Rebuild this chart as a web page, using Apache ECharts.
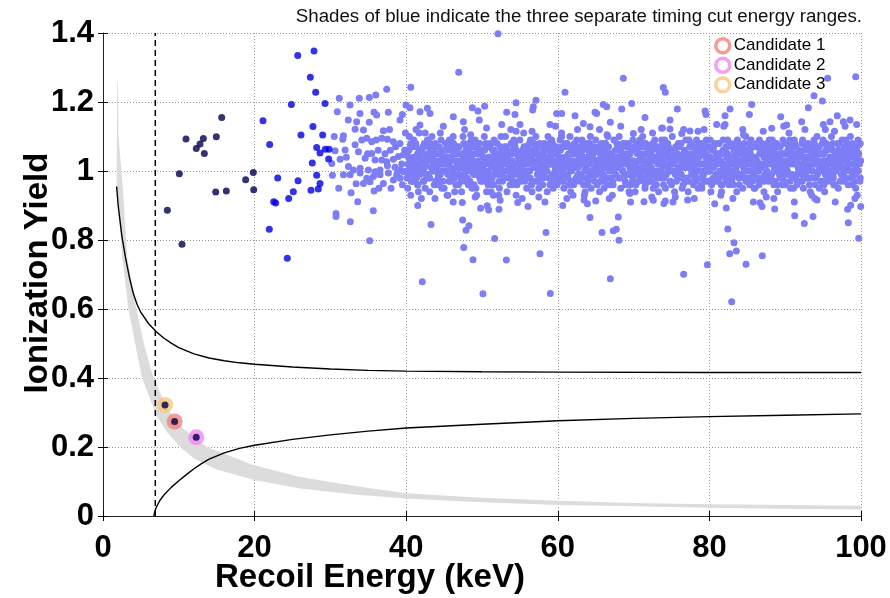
<!DOCTYPE html>
<html>
<head>
<meta charset="utf-8">
<script src="https://cdn.jsdelivr.net/npm/echarts@6/dist/echarts.min.js"></script>
<style>html,body{margin:0;padding:0;background:#fff}#c{width:890px;height:598px}</style>
</head>
<body>
<div id="c"></div>
<script>
// ---- axis ticks ----
const xTicks = [0, 20, 40, 60, 80, 100];
const yTicks = [0, 0.2, 0.4, 0.6, 0.8, 1, 1.2, 1.4];
const titleText = 'Shades of blue indicate the three separate timing cut energy ranges.';
const xName = 'Recoil Energy (keV)';
const yName = 'Ionization Yield';
const candidateNames = ['Candidate 1', 'Candidate 2', 'Candidate 3'];

// ---- candidates [keV, yield] ----
const candidate1 = [[9.45, 0.274]];
const candidate2 = [[12.3, 0.228]];
const candidate3 = [[8.18, 0.322]];

// ---- cut line (recoil energy threshold) ----
const thresholdX = 6.9;

// ---- gray band (edges) ----
const bandTopX = [1.95, 2.05, 2.6, 3.2, 4.4, 5.5, 6.6, 8.5, 10.5, 13.7, 19.8, 26, 33.9, 40, 50, 60, 70, 80, 90, 100];
const bandTopY = [1.26, 1.1, 0.955, 0.75, 0.6, 0.49, 0.404, 0.31, 0.255, 0.2, 0.148, 0.113, 0.085, 0.066, 0.053, 0.044, 0.038, 0.034, 0.032, 0.030];
const bandBotX = [1.88, 1.8, 2.55, 3.35, 5.1, 7, 8.5, 10.2, 12, 15, 19.8, 26, 33.9, 40, 50, 60, 70, 80, 90, 100];
const bandBotY = [1.26, 0.955, 0.75, 0.6, 0.404, 0.293, 0.241, 0.2, 0.167, 0.135, 0.105, 0.08, 0.061, 0.051, 0.04, 0.032, 0.028, 0.024, 0.021, 0.019];

// ---- black curves ----
const upperCurveX = [1.8, 2, 2.5, 3, 3.5, 4, 4.5, 5, 6, 7, 8, 9, 10, 12, 14, 16, 18, 20, 25, 30, 35, 40, 50, 60, 80, 100];
const upperCurveY = [0.955, 0.9, 0.81, 0.745, 0.69, 0.645, 0.613, 0.59, 0.558, 0.535, 0.516, 0.501, 0.488, 0.47, 0.458, 0.45, 0.444, 0.44, 0.432, 0.426, 0.422, 0.42, 0.418, 0.417, 0.416, 0.416];
const lowerCurveX = [6.7, 6.85, 7, 7.5, 8, 9, 10, 11, 12, 13, 14, 16, 18, 20, 25, 30, 35, 40, 50, 60, 70, 80, 90, 100];
const lowerCurveY = [0, 0.013, 0.024, 0.045, 0.06, 0.083, 0.102, 0.12, 0.137, 0.152, 0.165, 0.183, 0.196, 0.205, 0.222, 0.235, 0.246, 0.255, 0.266, 0.276, 0.283, 0.288, 0.292, 0.296];

// ---- events: lowest energy range (navy) ----
const navyPts = [[15.66,1.155],[10.95,1.093],[13.24,1.094],[12.8,1.078],[12.31,1.065],[13.37,1.051],[14.95,1.099],[10.07,0.992],[19.83,0.996],[18.82,0.975],[19.88,0.946],[14.87,0.939],[16.27,0.942],[8.49,0.886],[10.42,0.788],[9.45,0.274],[12.3,0.228],[8.18,0.322]];

// ---- events: middle energy range (blue) ----
const bluePts = [[25.69,1.335],[27.84,1.348],[27.35,1.272],[28.06,1.228],[29.29,1.196],[24.85,1.193],[21.11,1.146],[27.7,1.129],[26.12,1.104],[28.98,1.104],[21.99,1.077],[28.19,1.068],[28.63,1.052],[29.33,1.063],[29.82,1.063],[29.77,1.035],[27.61,1.023],[28.19,0.988],[23.05,0.98],[25.73,0.972],[28.63,0.964],[28.4,0.948],[27.44,0.944],[25.11,0.94],[22.52,0.911],[22.78,0.907],[24.5,0.92],[21.94,0.831],[24.31,0.747]];

// ---- events: highest energy range (light blue) ----
const lightLowE = [[31.72,1.102],[31.63,1.092],[33.26,1.121],[34.36,1.119],[36.99,1.117],[30.62,1.059],[31.94,1.061],[33.26,1.076],[34.14,1.09],[34.8,1.095],[35.45,1.085],[36.03,1.09],[36.77,1.095],[37.52,1.092],[38.31,1.085],[39.19,1.08],[33.7,1.056],[34.58,1.037],[35.45,1.051],[35.89,1.032],[36.77,1.032],[37.43,1.027],[38.31,1.034],[38.97,1.042],[39.63,1.047],[30.18,1.022],[31.28,1.034],[32.38,1.013],[33.04,1.003],[33.92,1.008],[35.01,1.003],[35.89,0.998],[36.55,1.003],[37.52,1.015],[38.53,1.011],[39.19,1.003],[30.27,0.988],[31.72,0.989],[32.6,0.989],[33.92,0.994],[34.8,0.979],[35.67,0.984],[36.55,0.989],[37.65,0.994],[38.75,0.989],[39.63,0.998],[33.39,0.963],[34.36,0.964],[35.23,0.969],[36.99,0.964],[38.31,0.974],[39.19,0.979],[32.73,0.937],[35.76,0.942],[37.9,1.06],[38.6,1.07],[39.4,1.02],[39.8,1.06],[38.9,1.0],[37.2,1.05],[36.3,1.06],[39.5,0.96],[38.0,0.95],[36.4,0.95],[34.9,1.05],[32.1,1.04],[30.5,1.10],[31.1,0.95],[37.8,1.12],[39.9,1.11]];

const lightHigh = [[52.11,1.398],[46.93,1.286],[40.6,1.243],[37.43,1.237],[35.98,1.22],[35.13,1.213],[33.81,1.211],[31.17,1.211],[32.59,1.191],[60.95,1.228],[57.12,1.205],[54.49,1.198],[50.35,1.188],[48.72,1.183],[49.47,1.174],[39.97,1.191],[40.5,1.183],[42.79,1.182],[41.82,1.172],[30.91,1.172],[33.9,1.167],[35.75,1.17],[36.1,1.162],[37.64,1.17],[39.49,1.164],[39.18,1.148],[43.14,1.167],[46.22,1.157],[47.54,1.143],[53.26,1.17],[54.35,1.164],[56.69,1.177],[56.77,1.186],[59.85,1.167],[60.51,1.167],[62.27,1.16],[64.91,1.17],[32.36,1.148],[33.47,1.143],[35.13,1.141],[41.82,1.133],[49.64,1.148],[52.6,1.135],[55.01,1.135],[58.97,1.135],[63.37,1.138],[64.25,1.128],
[68.64,1.269],[73.92,1.242],[74.18,1.228],[95.6,1.269],[99.3,1.273],[93.8,1.218],[94.9,1.203],[66.0,1.193],[66.45,1.186],[65.13,1.167],[68.43,1.18],[69.75,1.196],[71.5,1.155],[66.93,1.141],[75.77,1.18],[74.8,1.148],[73.7,1.124],[74.8,1.122],[79.42,1.174],[79.55,1.164],[82.72,1.18],[82.06,1.16],[85.58,1.193],[85.27,1.164],[89.41,1.157],[93.05,1.183],[92.17,1.143],[90.19,1.133],[88.22,1.124],[80.96,1.135],[82.06,1.135],[95.03,1.135],[95.91,1.143],[96.87,1.16],[97.67,1.143],[98.55,1.148],[99.43,1.135],[77.44,1.116],[76.35,1.109],[69.97,1.109]];

const lightLow = [[33.6,0.911],[30.74,0.877],[30.74,0.868],[32.63,0.853],[35.66,0.885],[35.18,0.798],[41.52,0.9],[43.27,0.845],[47.4,0.909],[47.45,0.858],[48.28,0.841],[47.89,0.828],[49.82,0.892],[50.7,0.899],[50.88,0.887],[52.24,0.889],[54.71,0.909],[56.07,0.897],[51.67,0.804],[47.59,0.778],[48.81,0.743],[53.21,0.742],[57.65,0.76],[58.44,0.822],[42.12,0.679],[50.13,0.644],[59.01,0.645],[60.65,0.9],[64.25,0.865],[63.46,0.916],[65.0,0.913],[67.98,0.867],[65.83,0.822],[67.32,0.827],[67.72,0.831],[68.07,0.799],[66.93,0.688],[71.37,0.911],[72.6,0.915],[74.0,0.906],[74.18,0.913],[77.13,0.916],[76.6,0.701],[79.73,0.728],[82.23,0.893],[82.42,0.832],[83.25,0.792],[82.68,0.76],[83.55,0.768],[84.83,0.73],[86.98,0.754],[82.94,0.621],[86.68,0.908],[86.94,0.897],[88.61,0.89],[91.25,0.87],[92.52,0.848],[93.67,0.868],[94.2,0.916],[98.24,0.889],[98.64,0.901],[98.33,0.85],[99.96,0.897],[99.7,0.805]];

const lightFringe = [[41.3,1.12],[43.8,0.92],[44.9,1.13],[46.2,0.91],[47.7,1.12],[49.1,0.925],[50.6,1.125],[52.4,0.915],[53.8,1.12],[55.3,0.92],[56.6,1.115],[58.3,0.91],[59.7,1.13],[61.2,0.92],[62.6,1.12],[63.9,0.905],[65.5,1.12],[66.8,0.92],[68.3,1.13],[69.6,0.91],[71.0,1.12],[72.4,0.925],[73.8,1.125],[75.2,0.91],[76.6,1.12],[78.0,0.92],[79.3,1.12],[80.7,0.905],[81.9,1.13],[83.1,0.92],[84.4,1.12],[85.8,0.91],[87.1,1.115],[88.5,0.92],[89.8,1.13],[91.2,0.91],[92.6,1.12],[93.9,0.92],[95.3,1.12],[96.6,0.91],[97.9,1.13],[99.2,0.92],
[42.5,1.11],[45.5,0.93],[48.5,1.105],[51.5,0.93],[54.5,1.115],[57.5,0.925],[60.5,1.11],[63.5,0.93],[66.5,1.105],[69.5,0.935],[72.5,1.11],[75.5,0.925],[78.5,1.115],[81.5,0.93],[84.5,1.105],[87.5,0.925],[90.5,1.11],[93.5,0.93],[96.5,1.115],[99.5,0.93]];

const lightCore = [
[40.1,1.05],[40.3,0.99],[40.6,1.08],[40.8,1.02],[40.2,0.95],[40.5,1.03],[40.9,0.97],[40.4,1.10],[40.7,1.00],[40.0,1.06],[40.6,0.93],[40.3,1.04],[40.8,1.07],[40.1,0.98],[40.5,1.01],
[41.2,1.02],[41.5,0.96],[41.8,1.06],[41.0,1.09],[41.4,1.00],[41.7,1.04],[41.1,0.97],[41.9,1.01],[41.3,1.07],[41.6,0.94],[41.2,1.04],[41.8,0.99],[41.5,1.05],[41.0,1.01],[41.7,1.11],
[42.0,1.03],[42.4,1.08],[42.7,0.98],[42.2,1.00],[42.9,1.05],[42.5,0.95],[42.1,1.06],[42.6,1.02],[42.3,0.97],[42.8,1.09],[42.4,1.01],[42.0,0.92],[42.7,1.04],[42.2,1.07],[42.9,0.99],
[43.3,1.01],[43.6,1.06],[43.1,0.98],[43.9,1.03],[43.4,1.10],[43.0,1.04],[43.7,0.96],[43.2,1.08],[43.5,1.00],[43.8,1.05],[43.1,0.94],[43.6,1.02],[43.3,1.07],[43.9,0.97],[43.4,1.03],
[44.2,1.05],[44.5,0.99],[44.8,1.02],[44.0,1.07],[44.6,1.09],[44.3,0.96],[44.9,1.04],[44.1,1.01],[44.7,0.95],[44.4,1.03],[44.2,0.98],[44.8,1.06],[44.5,1.11],[44.0,1.00],[44.6,1.03],
[45.1,1.00],[45.4,1.04],[45.8,0.97],[45.2,1.08],[45.6,1.02],[45.9,1.06],[45.0,0.95],[45.3,1.03],[45.7,1.09],[45.5,0.99],[45.1,1.06],[45.8,1.01],[45.4,0.93],[45.9,1.04],[45.2,1.02],
[46.0,1.04],[46.3,0.98],[46.7,1.07],[46.5,1.01],[46.9,0.96],[46.2,1.10],[46.6,1.03],[46.1,1.00],[46.8,1.05],[46.4,0.94],[46.0,1.08],[46.7,0.99],[46.3,1.05],[46.9,1.02],[46.5,1.06],
[47.2,1.03],[47.6,1.08],[47.0,0.99],[47.4,1.05],[47.8,0.97],[47.1,1.01],[47.9,1.06],[47.3,0.94],[47.7,1.02],[47.5,1.10],[47.2,0.98],[47.6,1.04],[47.0,1.07],[47.8,1.00],[47.4,1.02],
[48.1,1.06],[48.4,1.00],[48.8,1.03],[48.2,0.96],[48.6,1.09],[48.9,0.99],[48.0,1.02],[48.5,1.05],[48.3,1.08],[48.7,0.95],[48.1,1.01],[48.6,1.04],[48.4,0.97],[48.9,1.07],[48.2,1.03],
[49.0,1.01],[49.3,1.07],[49.7,0.98],[49.5,1.03],[49.9,1.05],[49.2,0.95],[49.6,1.00],[49.1,1.09],[49.8,1.02],[49.4,0.99],[49.0,1.05],[49.7,1.08],[49.3,0.93],[49.9,1.01],[49.5,1.06],
[50.2,1.04],[50.5,0.98],[50.9,1.07],[50.1,1.01],[50.7,1.03],[50.3,1.10],[50.8,0.96],[50.0,1.06],[50.4,1.02],[50.6,0.94],[50.2,0.99],[50.9,1.04],[50.5,1.08],[50.1,0.97],[50.7,1.00],
[51.1,1.03],[51.4,1.06],[51.8,1.00],[51.0,0.97],[51.6,1.09],[51.3,1.01],[51.9,1.05],[51.2,0.94],[51.7,1.03],[51.5,0.99],[51.1,1.08],[51.8,1.04],[51.4,0.96],[51.0,1.02],[51.6,1.06],
[52.0,1.02],[52.4,1.07],[52.7,0.97],[52.2,1.04],[52.9,1.00],[52.5,1.10],[52.1,0.99],[52.6,1.05],[52.3,0.95],[52.8,1.03],[52.4,1.01],[52.0,1.08],[52.7,1.06],[52.2,0.93],[52.9,1.04],
[53.3,1.05],[53.6,0.98],[53.1,1.02],[53.9,1.08],[53.4,1.00],[53.0,1.04],[53.7,0.96],[53.2,1.07],[53.5,1.03],[53.8,0.99],[53.1,1.10],[53.6,1.01],[53.3,0.94],[53.9,1.05],[53.4,1.02],
[54.2,1.01],[54.5,1.06],[54.8,0.99],[54.0,1.03],[54.6,0.96],[54.3,1.08],[54.9,1.02],[54.1,0.97],[54.7,1.05],[54.4,1.00],[54.2,1.09],[54.8,1.04],[54.5,0.93],[54.0,1.06],[54.6,1.02],
[55.1,1.04],[55.4,0.98],[55.8,1.07],[55.2,1.01],[55.6,1.03],[55.9,0.95],[55.0,1.09],[55.3,1.05],[55.7,1.00],[55.5,1.11],[55.1,0.97],[55.8,1.02],[55.4,1.06],[55.9,1.03],[55.2,0.99],
[56.0,1.02],[56.3,1.06],[56.7,0.97],[56.5,1.04],[56.9,1.08],[56.2,1.00],[56.6,0.94],[56.1,1.05],[56.8,1.01],[56.4,1.09],[56.0,0.98],[56.7,1.03],[56.3,1.00],[56.9,1.05],[56.5,0.96],
[57.2,1.03],[57.6,1.00],[57.0,1.07],[57.4,0.97],[57.8,1.05],[57.1,1.10],[57.9,1.02],[57.3,0.99],[57.7,1.04],[57.5,0.95],[57.2,1.06],[57.6,1.08],[57.0,1.01],[57.8,0.98],[57.4,1.03],
[58.1,1.05],[58.4,1.01],[58.8,0.98],[58.2,1.08],[58.6,1.03],[58.9,1.06],[58.0,0.96],[58.5,1.00],[58.3,1.04],[58.7,1.10],[58.1,0.99],[58.6,0.94],[58.4,1.07],[58.9,1.02],[58.2,1.01],
[59.0,1.02],[59.3,0.97],[59.7,1.06],[59.5,1.03],[59.9,1.00],[59.2,1.09],[59.6,0.99],[59.1,1.05],[59.8,1.07],[59.4,0.95],[59.0,1.04],[59.7,1.01],[59.3,1.08],[59.9,0.96],[59.5,1.05],
[60.2,1.04],[60.5,1.00],[60.9,1.07],[60.1,0.98],[60.7,1.02],[60.3,1.09],[60.8,0.95],[60.0,1.05],[60.4,1.03],[60.6,0.97],[60.2,1.01],[60.9,1.04],[60.5,1.10],[60.1,1.06],[60.7,0.99],
[61.1,1.01],[61.4,1.05],[61.8,0.97],[61.0,1.08],[61.6,1.03],[61.3,0.99],[61.9,1.06],[61.2,1.02],[61.7,0.94],[61.5,1.07],[61.1,1.04],[61.8,1.00],[61.4,0.96],[61.0,1.03],[61.6,1.10],
[62.0,1.03],[62.4,0.98],[62.7,1.06],[62.2,1.01],[62.9,1.04],[62.5,1.09],[62.1,0.96],[62.6,1.02],[62.3,1.07],[62.8,0.99],[62.4,1.05],[62.0,0.93],[62.7,1.01],[62.2,1.08],[62.9,0.97],
[63.3,1.02],[63.6,1.07],[63.1,0.99],[63.9,1.04],[63.4,0.96],[63.0,1.06],[63.7,1.01],[63.2,1.09],[63.5,1.03],[63.8,0.98],[63.1,1.05],[63.6,0.94],[63.3,1.08],[63.9,1.00],[63.4,1.03],
[64.2,1.05],[64.5,1.00],[64.8,1.07],[64.0,0.97],[64.6,1.03],[64.3,1.10],[64.9,0.99],[64.1,1.02],[64.7,1.05],[64.4,0.95],[64.2,1.08],[64.8,1.01],[64.5,1.04],[64.0,1.06],[64.6,0.98],
[65.1,1.03],[65.4,1.07],[65.8,1.00],[65.2,0.96],[65.6,1.05],[65.9,1.02],[65.0,1.09],[65.3,0.99],[65.7,1.04],[65.5,0.94],[65.1,1.06],[65.8,1.08],[65.4,1.01],[65.9,0.97],[65.2,1.03],
[66.0,1.04],[66.3,1.01],[66.7,1.07],[66.5,0.98],[66.9,1.03],[66.2,1.06],[66.6,1.10],[66.1,0.95],[66.8,1.00],[66.4,1.05],[66.0,0.99],[66.7,1.02],[66.3,1.08],[66.9,0.96],[66.5,1.04],
[67.2,1.02],[67.6,1.06],[67.0,0.98],[67.4,1.09],[67.8,1.03],[67.1,1.00],[67.9,1.07],[67.3,0.96],[67.7,1.01],[67.5,1.04],[67.2,0.93],[67.6,0.99],[67.0,1.05],[67.8,1.08],[67.4,1.02],
[68.1,1.06],[68.4,1.02],[68.8,0.99],[68.2,1.04],[68.6,1.08],[68.9,0.97],[68.0,1.01],[68.5,1.05],[68.3,0.95],[68.7,1.03],[68.1,1.10],[68.6,1.00],[68.4,1.07],[68.9,1.04],[68.2,0.98],
[69.0,1.03],[69.3,0.99],[69.7,1.06],[69.5,1.01],[69.9,1.09],[69.2,1.04],[69.6,0.96],[69.1,1.07],[69.8,1.02],[69.4,0.94],[69.0,1.05],[69.7,1.00],[69.3,1.08],[69.9,0.98],[69.5,1.03],
[70.2,1.01],[70.5,1.05],[70.9,0.98],[70.1,1.07],[70.7,1.03],[70.3,0.96],[70.8,1.09],[70.0,1.02],[70.4,1.06],[70.6,1.00],[70.2,0.94],[70.9,1.04],[70.5,1.08],[70.1,0.99],[70.7,1.05],
[71.1,1.04],[71.4,0.97],[71.8,1.06],[71.0,1.01],[71.6,1.08],[71.3,1.03],[71.9,0.99],[71.2,1.10],[71.7,1.02],[71.5,0.95],[71.1,1.07],[71.8,1.03],[71.4,1.00],[71.0,1.05],[71.6,0.97],
[72.0,1.02],[72.4,1.06],[72.7,1.00],[72.2,0.97],[72.9,1.04],[72.5,1.08],[72.1,1.01],[72.6,0.95],[72.3,1.05],[72.8,1.09],[72.4,0.99],[72.0,1.07],[72.7,1.03],[72.2,1.04],[72.9,0.96],
[73.3,1.03],[73.6,0.99],[73.1,1.07],[73.9,1.01],[73.4,1.05],[73.0,0.96],[73.7,1.09],[73.2,1.02],[73.5,0.98],[73.8,1.06],[73.1,1.00],[73.6,1.04],[73.3,0.94],[73.9,1.08],[73.4,1.02],
[74.2,1.05],[74.5,1.01],[74.8,0.97],[74.0,1.03],[74.6,1.07],[74.3,0.99],[74.9,1.04],[74.1,1.09],[74.7,1.00],[74.4,1.06],[74.2,0.95],[74.8,1.02],[74.5,1.08],[74.0,0.98],[74.6,1.04],
[75.1,1.02],[75.4,1.06],[75.8,0.98],[75.2,1.04],[75.6,1.00],[75.9,1.08],[75.0,0.96],[75.3,1.03],[75.7,1.07],[75.5,0.99],[75.1,1.10],[75.8,1.05],[75.4,0.94],[75.9,1.01],[75.2,1.06],
[76.0,1.04],[76.3,0.99],[76.7,1.06],[76.5,1.02],[76.9,0.97],[76.2,1.08],[76.6,1.03],[76.1,1.00],[76.8,1.05],[76.4,0.95],[76.0,1.07],[76.7,1.01],[76.3,1.04],[76.9,1.09],[76.5,0.98],
[77.2,1.01],[77.6,1.05],[77.0,0.98],[77.4,1.07],[77.8,1.02],[77.1,1.04],[77.9,0.96],[77.3,1.09],[77.7,1.00],[77.5,1.03],[77.2,0.94],[77.6,1.08],[77.0,1.05],[77.8,0.99],[77.4,1.02],
[78.1,1.03],[78.4,1.07],[78.8,1.00],[78.2,0.97],[78.6,1.04],[78.9,1.06],[78.0,1.01],[78.5,0.95],[78.3,1.09],[78.7,1.02],[78.1,0.99],[78.6,1.08],[78.4,1.03],[78.9,0.98],[78.2,1.05],
[79.0,1.05],[79.3,1.00],[79.7,1.03],[79.5,0.97],[79.9,1.07],[79.2,1.02],[79.6,1.09],[79.1,0.98],[79.8,1.04],[79.4,1.06],[79.0,0.95],[79.7,1.01],[79.3,1.08],[79.9,1.00],[79.5,1.04],
[80.2,1.02],[80.5,1.06],[80.9,0.99],[80.1,1.04],[80.7,1.08],[80.3,0.96],[80.8,1.03],[80.0,1.00],[80.4,1.07],[80.6,1.01],[80.2,0.94],[80.9,1.05],[80.5,0.98],[80.1,1.09],[80.7,1.03],
[81.1,1.04],[81.4,1.00],[81.8,1.06],[81.0,0.97],[81.6,1.02],[81.3,1.08],[81.9,1.01],[81.2,1.05],[81.7,0.96],[81.5,1.03],[81.1,0.99],[81.8,1.09],[81.4,1.05],[81.0,1.02],[81.6,0.94],
[82.0,1.01],[82.4,1.05],[82.7,1.08],[82.2,0.98],[82.9,1.03],[82.5,1.00],[82.1,1.06],[82.6,0.96],[82.3,1.04],[82.8,1.02],[82.4,1.09],[82.0,0.99],[82.7,1.04],[82.2,1.07],[82.9,0.97],
[83.3,1.03],[83.6,1.07],[83.1,1.00],[83.9,0.98],[83.4,1.05],[83.0,1.02],[83.7,1.09],[83.2,0.96],[83.5,1.01],[83.8,1.06],[83.1,1.04],[83.6,0.94],[83.3,1.08],[83.9,1.03],[83.4,0.99],
[84.2,1.06],[84.5,1.01],[84.8,1.04],[84.0,0.99],[84.6,1.08],[84.3,1.03],[84.9,0.97],[84.1,1.05],[84.7,1.00],[84.4,0.95],[84.2,1.02],[84.8,1.10],[84.5,1.06],[84.0,1.03],[84.6,0.98],
[85.1,1.02],[85.4,1.05],[85.8,0.99],[85.2,1.08],[85.6,1.03],[85.9,1.01],[85.0,1.06],[85.3,0.96],[85.7,1.04],[85.5,1.09],[85.1,0.98],[85.8,1.07],[85.4,1.00],[85.9,0.95],[85.2,1.04],
[86.0,1.03],[86.3,1.07],[86.7,1.01],[86.5,0.97],[86.9,1.05],[86.2,1.00],[86.6,1.09],[86.1,1.04],[86.8,0.98],[86.4,1.02],[86.0,0.95],[86.7,1.06],[86.3,1.03],[86.9,1.08],[86.5,1.00],
[87.2,1.04],[87.6,1.00],[87.0,1.07],[87.4,1.02],[87.8,0.97],[87.1,1.05],[87.9,1.09],[87.3,0.99],[87.7,1.03],[87.5,1.06],[87.2,0.94],[87.6,1.08],[87.0,1.01],[87.8,1.04],[87.4,0.98],
[88.1,1.02],[88.4,1.06],[88.8,1.03],[88.2,0.99],[88.6,1.01],[88.9,1.07],[88.0,1.04],[88.5,0.96],[88.3,1.09],[88.7,1.00],[88.1,1.05],[88.6,0.97],[88.4,1.03],[88.9,1.05],[88.2,1.08],
[89.0,1.03],[89.3,0.98],[89.7,1.05],[89.5,1.01],[89.9,1.08],[89.2,1.04],[89.6,0.96],[89.1,1.07],[89.8,1.02],[89.4,1.00],[89.0,0.94],[89.7,1.09],[89.3,1.05],[89.9,0.99],[89.5,1.03],
[90.2,1.05],[90.5,1.02],[90.9,0.98],[90.1,1.08],[90.7,1.04],[90.3,1.00],[90.8,1.06],[90.0,0.96],[90.4,1.03],[90.6,1.09],[90.2,0.99],[90.9,1.02],[90.5,1.07],[90.1,1.01],[90.7,0.95],
[91.1,1.03],[91.4,1.07],[91.8,1.00],[91.0,1.05],[91.6,0.97],[91.3,1.02],[91.9,1.04],[91.2,1.09],[91.7,1.01],[91.5,0.99],[91.1,0.95],[91.8,1.06],[91.4,1.03],[91.0,1.08],[91.6,1.02],
[92.0,1.01],[92.4,1.04],[92.7,1.07],[92.2,0.99],[92.9,1.03],[92.5,1.06],[92.1,0.97],[92.6,1.02],[92.3,1.09],[92.8,1.00],[92.4,0.95],[92.0,1.05],[92.7,1.03],[92.2,1.08],[92.9,0.98],
[93.3,1.04],[93.6,1.00],[93.1,1.06],[93.9,1.02],[93.4,0.98],[93.0,1.08],[93.7,1.05],[93.2,0.96],[93.5,1.03],[93.8,1.09],[93.1,1.01],[93.6,1.07],[93.3,0.94],[93.9,1.04],[93.4,1.02],
[94.2,1.03],[94.5,1.07],[94.8,1.01],[94.0,0.98],[94.6,1.05],[94.3,1.02],[94.9,1.08],[94.1,1.04],[94.7,0.97],[94.4,1.00],[94.2,1.10],[94.8,1.05],[94.5,0.95],[94.0,1.06],[94.6,1.01],
[95.1,1.05],[95.4,1.01],[95.8,1.07],[95.2,1.03],[95.6,0.98],[95.9,1.04],[95.0,1.09],[95.3,0.99],[95.7,1.02],[95.5,1.06],[95.1,0.96],[95.8,1.00],[95.4,1.08],[95.9,1.03],[95.2,0.94],
[96.0,1.02],[96.3,1.06],[96.7,1.00],[96.5,1.04],[96.9,1.08],[96.2,0.98],[96.6,1.03],[96.1,1.10],[96.8,1.05],[96.4,0.96],[96.0,1.07],[96.7,1.02],[96.3,0.99],[96.9,1.04],[96.5,1.01],
[97.2,1.04],[97.6,1.01],[97.0,1.06],[97.4,0.99],[97.8,1.03],[97.1,1.08],[97.9,1.00],[97.3,1.05],[97.7,0.97],[97.5,1.09],[97.2,1.02],[97.6,1.06],[97.0,0.95],[97.8,1.07],[97.4,1.03],
[98.1,1.03],[98.4,1.07],[98.8,1.00],[98.2,1.05],[98.6,0.98],[98.9,1.04],[98.0,1.09],[98.5,1.02],[98.3,0.96],[98.7,1.06],[98.1,1.01],[98.6,1.10],[98.4,1.04],[98.9,0.99],[98.2,1.08],
[99.0,1.05],[99.3,1.01],[99.7,1.03],[99.5,1.07],[99.9,0.98],[99.2,1.04],[99.6,1.09],[99.1,0.97],[99.8,1.02],[99.4,1.06],[99.0,1.00],[99.7,1.05],[99.3,0.95],[99.9,1.08],[99.5,1.03]
];

const lightCore2 = [
[40.05,1.00],[40.35,1.06],[40.65,0.97],[40.95,1.04],[40.25,1.02],[40.55,1.07],[40.85,0.99],
[41.05,1.03],[41.35,0.98],[41.65,1.05],[41.95,1.01],[41.25,1.08],[41.55,0.96],[41.85,1.02],
[42.05,1.05],[42.35,1.01],[42.65,0.99],[42.95,1.07],[42.25,0.97],[42.55,1.03],[42.85,1.04],
[43.05,0.98],[43.35,1.04],[43.65,1.02],[43.95,0.96],[43.25,1.06],[43.55,1.00],[43.85,1.08],
[44.05,1.02],[44.35,1.07],[44.65,1.00],[44.95,1.03],[44.25,0.99],[44.55,1.05],[44.85,0.97],
[45.05,1.00],[45.35,1.06],[45.65,0.97],[45.95,1.04],[45.25,1.02],[45.55,1.07],[45.85,0.99],
[46.05,1.03],[46.35,0.98],[46.65,1.05],[46.95,1.01],[46.25,1.08],[46.55,0.96],[46.85,1.02],
[47.05,1.05],[47.35,1.01],[47.65,0.99],[47.95,1.07],[47.25,0.97],[47.55,1.03],[47.85,1.04],
[48.05,0.98],[48.35,1.04],[48.65,1.02],[48.95,0.96],[48.25,1.06],[48.55,1.00],[48.85,1.08],
[49.05,1.02],[49.35,1.07],[49.65,1.00],[49.95,1.03],[49.25,0.99],[49.55,1.05],[49.85,0.97],
[50.05,1.00],[50.35,1.06],[50.65,0.97],[50.95,1.04],[50.25,1.02],[50.55,1.07],[50.85,0.99],
[51.05,1.03],[51.35,0.98],[51.65,1.05],[51.95,1.01],[51.25,1.08],[51.55,0.96],[51.85,1.02],
[52.05,1.05],[52.35,1.01],[52.65,0.99],[52.95,1.07],[52.25,0.97],[52.55,1.03],[52.85,1.04],
[53.05,0.98],[53.35,1.04],[53.65,1.02],[53.95,0.96],[53.25,1.06],[53.55,1.00],[53.85,1.08],
[54.05,1.02],[54.35,1.07],[54.65,1.00],[54.95,1.03],[54.25,0.99],[54.55,1.05],[54.85,0.97],
[55.05,1.00],[55.35,1.06],[55.65,0.97],[55.95,1.04],[55.25,1.02],[55.55,1.07],[55.85,0.99],
[56.05,1.03],[56.35,0.98],[56.65,1.05],[56.95,1.01],[56.25,1.08],[56.55,0.96],[56.85,1.02],
[57.05,1.05],[57.35,1.01],[57.65,0.99],[57.95,1.07],[57.25,0.97],[57.55,1.03],[57.85,1.04],
[58.05,0.98],[58.35,1.04],[58.65,1.02],[58.95,0.96],[58.25,1.06],[58.55,1.00],[58.85,1.08],
[59.05,1.02],[59.35,1.07],[59.65,1.00],[59.95,1.03],[59.25,0.99],[59.55,1.05],[59.85,0.97],
[60.05,1.00],[60.35,1.06],[60.65,0.97],[60.95,1.04],[60.25,1.02],[60.55,1.07],[60.85,0.99],
[61.05,1.03],[61.35,0.98],[61.65,1.05],[61.95,1.01],[61.25,1.08],[61.55,0.96],[61.85,1.02],
[62.05,1.05],[62.35,1.01],[62.65,0.99],[62.95,1.07],[62.25,0.97],[62.55,1.03],[62.85,1.04],
[63.05,0.98],[63.35,1.04],[63.65,1.02],[63.95,0.96],[63.25,1.06],[63.55,1.00],[63.85,1.08],
[64.05,1.02],[64.35,1.07],[64.65,1.00],[64.95,1.03],[64.25,0.99],[64.55,1.05],[64.85,0.97],
[65.05,1.00],[65.35,1.06],[65.65,0.97],[65.95,1.04],[65.25,1.02],[65.55,1.07],[65.85,0.99],
[66.05,1.03],[66.35,0.98],[66.65,1.05],[66.95,1.01],[66.25,1.08],[66.55,0.96],[66.85,1.02],
[67.05,1.05],[67.35,1.01],[67.65,0.99],[67.95,1.07],[67.25,0.97],[67.55,1.03],[67.85,1.04],
[68.05,0.98],[68.35,1.04],[68.65,1.02],[68.95,0.96],[68.25,1.06],[68.55,1.00],[68.85,1.08],
[69.05,1.02],[69.35,1.07],[69.65,1.00],[69.95,1.03],[69.25,0.99],[69.55,1.05],[69.85,0.97],
[70.05,1.00],[70.35,1.06],[70.65,0.97],[70.95,1.04],[70.25,1.02],[70.55,1.07],[70.85,0.99],
[71.05,1.03],[71.35,0.98],[71.65,1.05],[71.95,1.01],[71.25,1.08],[71.55,0.96],[71.85,1.02],
[72.05,1.05],[72.35,1.01],[72.65,0.99],[72.95,1.07],[72.25,0.97],[72.55,1.03],[72.85,1.04],
[73.05,0.98],[73.35,1.04],[73.65,1.02],[73.95,0.96],[73.25,1.06],[73.55,1.00],[73.85,1.08],
[74.05,1.02],[74.35,1.07],[74.65,1.00],[74.95,1.03],[74.25,0.99],[74.55,1.05],[74.85,0.97],
[75.05,1.00],[75.35,1.06],[75.65,0.97],[75.95,1.04],[75.25,1.02],[75.55,1.07],[75.85,0.99],
[76.05,1.03],[76.35,0.98],[76.65,1.05],[76.95,1.01],[76.25,1.08],[76.55,0.96],[76.85,1.02],
[77.05,1.05],[77.35,1.01],[77.65,0.99],[77.95,1.07],[77.25,0.97],[77.55,1.03],[77.85,1.04],
[78.05,0.98],[78.35,1.04],[78.65,1.02],[78.95,0.96],[78.25,1.06],[78.55,1.00],[78.85,1.08],
[79.05,1.02],[79.35,1.07],[79.65,1.00],[79.95,1.03],[79.25,0.99],[79.55,1.05],[79.85,0.97],
[80.05,1.00],[80.35,1.06],[80.65,0.97],[80.95,1.04],[80.25,1.02],[80.55,1.07],[80.85,0.99],
[81.05,1.03],[81.35,0.98],[81.65,1.05],[81.95,1.01],[81.25,1.08],[81.55,0.96],[81.85,1.02],
[82.05,1.05],[82.35,1.01],[82.65,0.99],[82.95,1.07],[82.25,0.97],[82.55,1.03],[82.85,1.04],
[83.05,0.98],[83.35,1.04],[83.65,1.02],[83.95,0.96],[83.25,1.06],[83.55,1.00],[83.85,1.08],
[84.05,1.02],[84.35,1.07],[84.65,1.00],[84.95,1.03],[84.25,0.99],[84.55,1.05],[84.85,0.97],
[85.05,1.00],[85.35,1.06],[85.65,0.97],[85.95,1.04],[85.25,1.02],[85.55,1.07],[85.85,0.99],
[86.05,1.03],[86.35,0.98],[86.65,1.05],[86.95,1.01],[86.25,1.08],[86.55,0.96],[86.85,1.02],
[87.05,1.05],[87.35,1.01],[87.65,0.99],[87.95,1.07],[87.25,0.97],[87.55,1.03],[87.85,1.04],
[88.05,0.98],[88.35,1.04],[88.65,1.02],[88.95,0.96],[88.25,1.06],[88.55,1.00],[88.85,1.08],
[89.05,1.02],[89.35,1.07],[89.65,1.00],[89.95,1.03],[89.25,0.99],[89.55,1.05],[89.85,0.97],
[90.05,1.00],[90.35,1.06],[90.65,0.97],[90.95,1.04],[90.25,1.02],[90.55,1.07],[90.85,0.99],
[91.05,1.03],[91.35,0.98],[91.65,1.05],[91.95,1.01],[91.25,1.08],[91.55,0.96],[91.85,1.02],
[92.05,1.05],[92.35,1.01],[92.65,0.99],[92.95,1.07],[92.25,0.97],[92.55,1.03],[92.85,1.04],
[93.05,0.98],[93.35,1.04],[93.65,1.02],[93.95,0.96],[93.25,1.06],[93.55,1.00],[93.85,1.08],
[94.05,1.02],[94.35,1.07],[94.65,1.00],[94.95,1.03],[94.25,0.99],[94.55,1.05],[94.85,0.97],
[95.05,1.00],[95.35,1.06],[95.65,0.97],[95.95,1.04],[95.25,1.02],[95.55,1.07],[95.85,0.99],
[96.05,1.03],[96.35,0.98],[96.65,1.05],[96.95,1.01],[96.25,1.08],[96.55,0.96],[96.85,1.02],
[97.05,1.05],[97.35,1.01],[97.65,0.99],[97.95,1.07],[97.25,0.97],[97.55,1.03],[97.85,1.04],
[98.05,0.98],[98.35,1.04],[98.65,1.02],[98.95,0.96],[98.25,1.06],[98.55,1.00],[98.85,1.08],
[99.05,1.02],[99.35,1.07],[99.65,1.00],[99.95,1.03],[99.25,0.99],[99.55,1.05],[99.85,0.97]
];

const lightPts = [].concat(lightLowE, lightCore, lightCore2, lightFringe, lightHigh, lightLow);

// ---- colours ----
const NAVY = '#00004e', BLUE = '#0000e0', LIGHT = '#7d7df5';
const C1 = '#f4837b', C2 = '#f388f0', C3 = '#f8c87c';
const FONT = '"Liberation Sans", Arial, Helvetica, sans-serif';

const chart = echarts.init(document.getElementById('c'), null, { renderer: 'canvas' });

function zipXY(xs, ys) { return xs.map((x, i) => [x, ys[i]]); }

const gridL = 103, gridR = 29, gridT = 33, gridB = 82;

const option = {
  backgroundColor: '#ffffff',
  animation: false,
  grid: { left: gridL, right: gridR, top: gridT, bottom: gridB, containLabel: false, outerBoundsMode: 'none' },
  xAxis: [
    {
      type: 'value', min: xTicks[0], max: xTicks[xTicks.length - 1], interval: 20,
      axisLine: { show: true, lineStyle: { color: '#888', type: [1, 2], width: 1 } },
      axisTick: { show: true, inside: true, length: 5, lineStyle: { color: '#000' } },
      axisLabel: { color: '#000', fontFamily: FONT, fontWeight: 'bold', fontSize: 31, margin: 17 },
      splitLine: { show: true, lineStyle: { color: '#999', type: [1, 2], width: 1 } }
    },
    {
      type: 'value', position: 'top', min: xTicks[0], max: xTicks[xTicks.length - 1], interval: 20,
      axisLine: { show: true, lineStyle: { color: '#222', width: 1 } },
      axisTick: { show: true, inside: true, length: 5, lineStyle: { color: '#000' } },
      axisLabel: { show: false }, splitLine: { show: false }
    }
  ],
  yAxis: [
    {
      type: 'value', min: yTicks[0], max: yTicks[yTicks.length - 1], interval: 0.2,
      axisLine: { show: true, lineStyle: { color: '#888', type: [1, 2], width: 1 } },
      axisTick: { show: true, inside: true, length: 5, lineStyle: { color: '#000' } },
      axisLabel: { color: '#000', fontFamily: FONT, fontWeight: 'bold', fontSize: 31, margin: 9,
        formatter: v => String(Math.round(v * 10) / 10) },
      splitLine: { show: true, lineStyle: { color: '#999', type: [1, 2], width: 1 } }
    },
    {
      type: 'value', position: 'right', min: yTicks[0], max: yTicks[yTicks.length - 1], interval: 0.2,
      axisLine: { show: true, lineStyle: { color: '#222', width: 1 } },
      axisTick: { show: true, inside: true, length: 5, lineStyle: { color: '#000' } },
      axisLabel: { show: false }, splitLine: { show: false }
    }
  ],
  legend: {
    orient: 'vertical', left: 714, top: 37, itemGap: 2, itemWidth: 14, itemHeight: 14,
    icon: 'circle', padding: 0,
    textStyle: { fontFamily: FONT, fontSize: 17, color: '#000', padding: [0, 0, 0, -1] },
    data: [
      { name: candidateNames[0], itemStyle: { color: '#fff', borderColor: C1, borderWidth: 3.5 } },
      { name: candidateNames[1], itemStyle: { color: '#fff', borderColor: C2, borderWidth: 3.5 } },
      { name: candidateNames[2], itemStyle: { color: '#fff', borderColor: C3, borderWidth: 3.5 } }
    ]
  },
  graphic: [
    { type: 'text', right: 890 - 862, top: 7, style: { text: titleText, font: '18.7px ' + FONT, fill: '#111' } },
    { type: 'text', x: 370, y: 578, style: { text: xName, font: 'bold 33px ' + FONT, fill: '#000', align: 'center', verticalAlign: 'middle' } },
    { type: 'text', x: 38, y: 273, rotation: Math.PI / 2, style: { text: yName, font: 'bold 33px ' + FONT, fill: '#000', align: 'center', verticalAlign: 'middle' } }
  ],
  series: [
    {
      type: 'custom', name: 'band', silent: true, z: 1, clip: true,
      data: [[0, 0]],
      renderItem: function (params, api) {
        const pts = [];
        for (let i = 0; i < bandTopX.length; i++) pts.push(api.coord([bandTopX[i], bandTopY[i]]));
        for (let i = bandBotX.length - 1; i >= 0; i--) pts.push(api.coord([bandBotX[i], bandBotY[i]]));
        return { type: 'polygon', shape: { points: pts }, style: { fill: '#dcdcdc', stroke: null } };
      }
    },
    {
      type: 'line', name: 'upper', data: zipXY(upperCurveX, upperCurveY), showSymbol: false, silent: true,
      smooth: false, lineStyle: { color: '#000', width: 1.4 }, z: 2
    },
    {
      type: 'line', name: 'lower', data: zipXY(lowerCurveX, lowerCurveY), showSymbol: false, silent: true,
      smooth: false, lineStyle: { color: '#000', width: 1.4 }, z: 2
    },
    {
      type: 'line', name: 'threshold', data: [[thresholdX, yTicks[0]], [thresholdX, yTicks[yTicks.length - 1]]],
      showSymbol: false, silent: true, lineStyle: { color: '#000', width: 1.5, type: [6, 4] }, z: 2
    },
    {
      type: 'scatter', name: 'high', data: lightPts, symbolSize: 7, silent: true,
      itemStyle: { color: LIGHT, opacity: 1 }, z: 3, large: false
    },
    {
      type: 'scatter', name: 'mid', data: bluePts, symbolSize: 7, silent: true,
      itemStyle: { color: BLUE }, z: 4
    },
    { type: 'scatter', name: candidateNames[0], data: candidate1, symbolSize: 16, silent: true, itemStyle: { color: C1 }, z: 4 },
    { type: 'scatter', name: candidateNames[1], data: candidate2, symbolSize: 16, silent: true, itemStyle: { color: C2 }, z: 4 },
    { type: 'scatter', name: candidateNames[2], data: candidate3, symbolSize: 16, silent: true, itemStyle: { color: C3 }, z: 4 },
    {
      type: 'scatter', name: 'low', data: navyPts, symbolSize: 7, silent: true,
      itemStyle: { color: NAVY }, z: 5
    }
  ]
};

chart.setOption(option);
</script>
</body>
</html>
